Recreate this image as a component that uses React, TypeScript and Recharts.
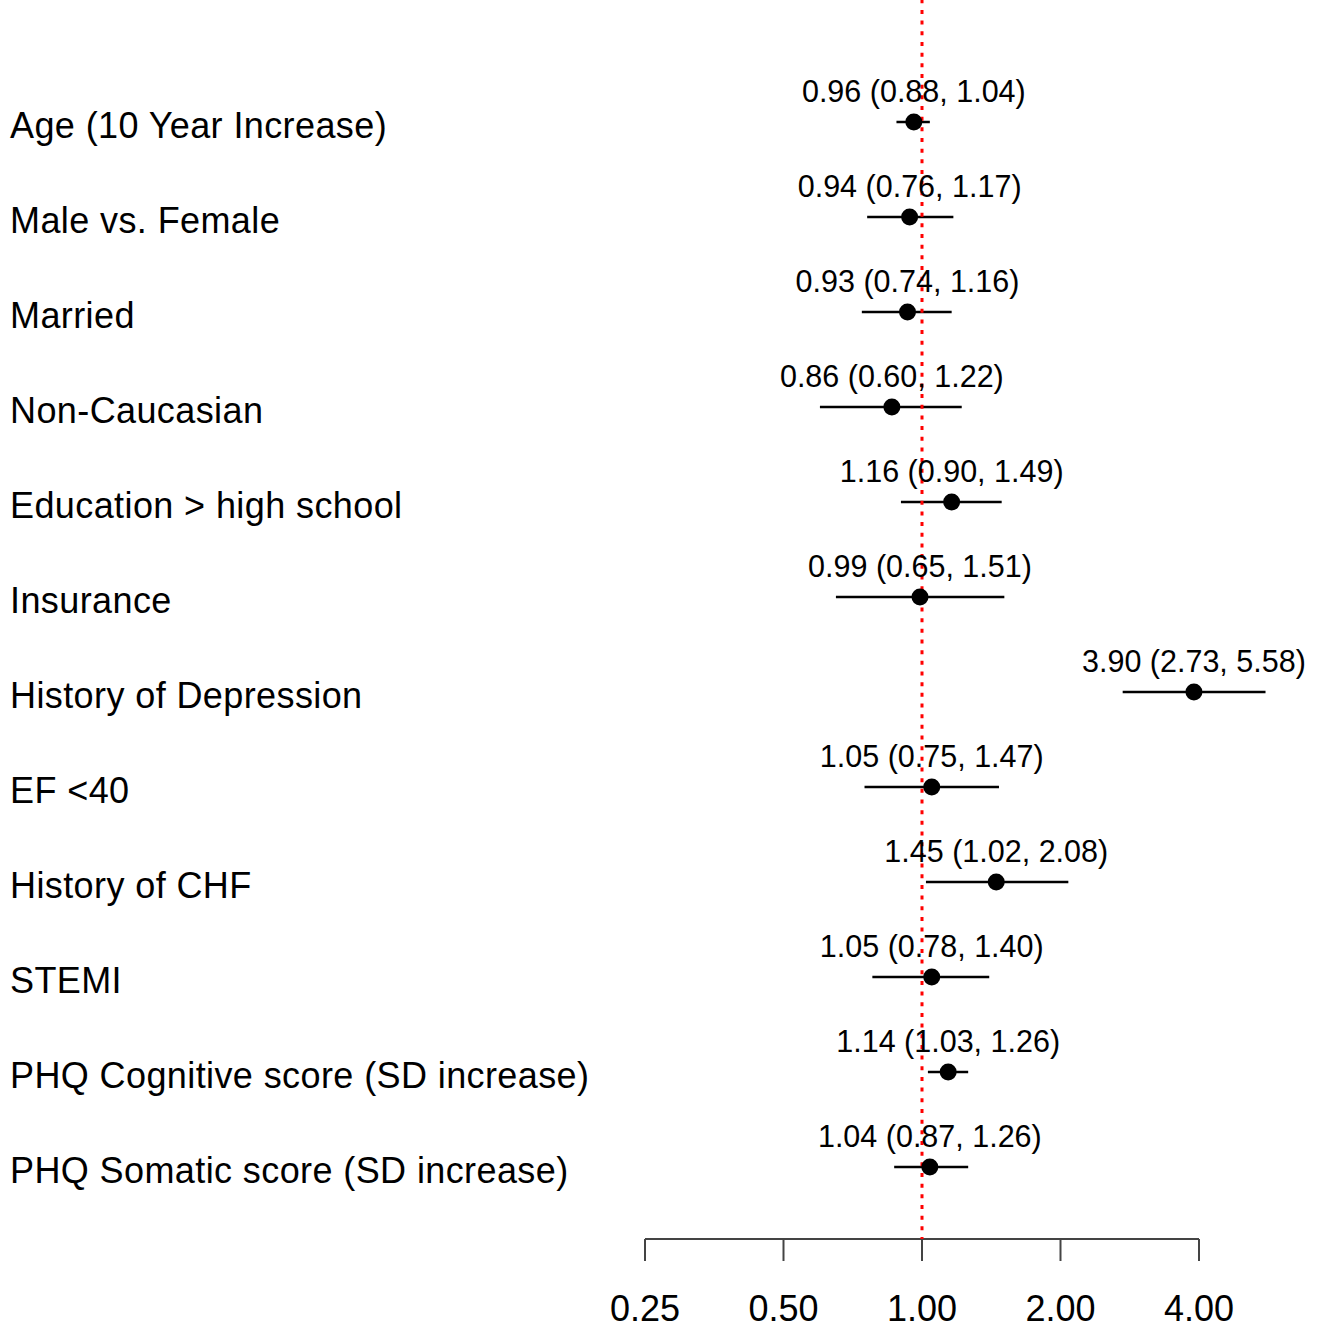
import React from 'react'
import { ComposedChart, Scatter, ErrorBar, XAxis, YAxis, ReferenceLine } from 'recharts'

const labels = [
  'Age (10 Year Increase)',
  'Male vs. Female',
  'Married',
  'Non-Caucasian',
  'Education > high school',
  'Insurance',
  'History of Depression',
  'EF <40',
  'History of CHF',
  'STEMI',
  'PHQ Cognitive score (SD increase)',
  'PHQ Somatic score (SD increase)',
]
const oddsRatio = [0.96, 0.94, 0.93, 0.86, 1.16, 0.99, 3.90, 1.05, 1.45, 1.05, 1.14, 1.04]
const lowerCI = [0.88, 0.76, 0.74, 0.60, 0.90, 0.65, 2.73, 0.75, 1.02, 0.78, 1.03, 0.87]
const upperCI = [1.04, 1.17, 1.16, 1.22, 1.49, 1.51, 5.58, 1.47, 2.08, 1.40, 1.26, 1.26]
const xTicks = [0.25, 0.5, 1, 2, 4]

const W = 1324
const H = 1329
const LEFT = 600 // y-axis label area
const PX_PER_DOUBLING = 138.5
// log domain so that 0.25 sits at x=645 and 4 at x=1199
const xLo = Math.pow(2, -2 - (645 - LEFT) / PX_PER_DOUBLING)
const xHi = Math.pow(2, 2 + (W - 1199) / PX_PER_DOUBLING)
const yLo = -122 / 95
const yHi = (1239 - 122) / 95

const data = labels.map((name, i) => ({
  name,
  row: i,
  or: oddsRatio[i],
  err: [oddsRatio[i] - lowerCI[i], upperCI[i] - oddsRatio[i]],
  text: `${oddsRatio[i].toFixed(2)} (${lowerCI[i].toFixed(2)}, ${upperCI[i].toFixed(2)})`,
}))

const font = '"Liberation Sans", Arial, Helvetica, sans-serif'

function RowLabel({ y, payload }: any) {
  return (
    <text x={10} y={y + 16} fontSize={36} letterSpacing={0.4} fill="#000" fontFamily={font}>
      {labels[payload.value]}
    </text>
  )
}

function Point({ cx, cy, payload }: any) {
  return (
    <g>
      <text x={cx} y={cy - 20} textAnchor="middle" fontSize={30.5} fill="#000" fontFamily={font}>
        {payload.text}
      </text>
      <circle cx={cx} cy={cy} r={8.5} fill="#000" />
    </g>
  )
}

export default function App() {
  return (
    <div style={{ width: W, height: H, background: '#fff' }}>
      <style>{`body{margin:0;background:#fff}`}</style>
      <ComposedChart width={W} height={H} data={data} margin={{ top: 0, right: 0, bottom: 0, left: 0 }} style={{ fontFamily: font }}>
        <XAxis
          dataKey="or"
          type="number"
          scale="log"
          domain={[xLo, xHi]}
          ticks={xTicks}
          interval={0}
          height={H - 1239}
          axisLine={false}
          tickLine={{ stroke: '#444', strokeWidth: 2 }}
          tickSize={22}
          tickMargin={34}
          tick={{ fill: '#000', fontSize: 36, fontFamily: font }}
          tickFormatter={(v: number) => v.toFixed(2)}
        />
        <YAxis
          dataKey="row"
          type="number"
          reversed
          domain={[yLo, yHi]}
          ticks={labels.map((_, i) => i)}
          interval={0}
          width={LEFT}
          axisLine={false}
          tickLine={false}
          tick={<RowLabel />}
        />
        <ReferenceLine
          segment={[{ x: 0.25, y: yHi }, { x: 4, y: yHi }]}
          stroke="#444"
          strokeWidth={2}
          ifOverflow="visible"
        />
        <Scatter dataKey="row" data={data} shape={<Point />} isAnimationActive={false}>
          <ErrorBar dataKey="err" direction="x" width={0} stroke="#000" strokeWidth={2.5} />
        </Scatter>
        <ReferenceLine x={1} stroke="#ff0000" strokeWidth={3} strokeDasharray="4 6.67" strokeDashoffset={2} />
      </ComposedChart>
    </div>
  )
}
